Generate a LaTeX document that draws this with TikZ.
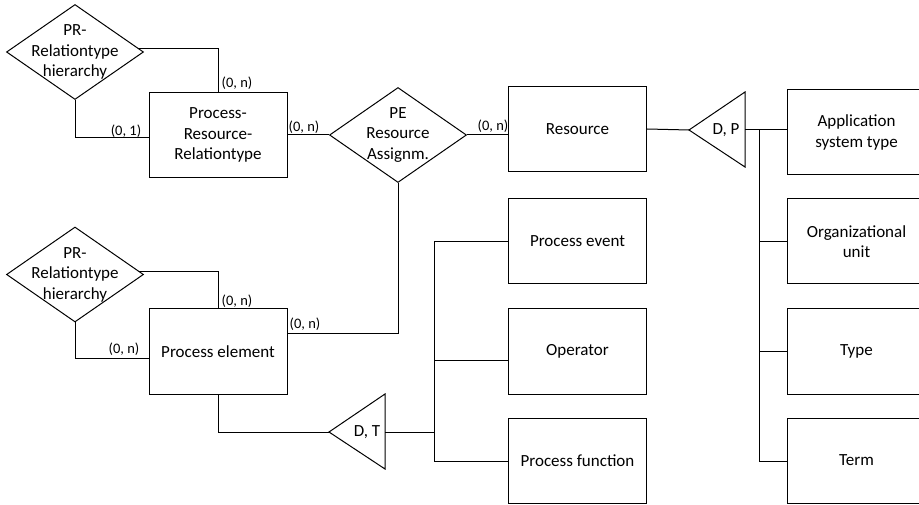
\documentclass[tikz,border=0pt]{standalone}
\usepackage{fontspec}
\setmainfont{Carlito}
\usetikzlibrary{shapes.geometric,calc}
\begin{document}
\begin{tikzpicture}[x=1pt,y=-1pt,
  ent/.style={draw,line width=1pt,rectangle,minimum width=138pt,minimum height=85pt,inner sep=0pt,align=center,font=\fontsize{17}{20.5}\selectfont},
  rel/.style={draw,line width=1pt,diamond,minimum width=137pt,minimum height=95pt,inner sep=0pt},
  rtxt/.style={align=center,font=\fontsize{17}{20.5}\selectfont,inner sep=0pt},
  card/.style={font=\fontsize{14.5}{16}\selectfont,inner sep=0pt},
  conn/.style={line width=1pt}]
\useasboundingbox (0,0) rectangle (919,505);

% relationships
\node[rel] (pr1) at (75,52) {};
\node[rtxt] (pr1t) at (pr1) {PR-\\Relationtype\\hierarchy};
\node[rel] (pera) at (398,135) {};
\node[rtxt] (perat) at (pera) {PE\\Resource\\Assignm.};
\node[rel] (pr2) at (75,274.5) {};
\node[rtxt] (pr2t) at (pr2) {PR-\\Relationtype\\hierarchy};

% entities
\node[ent] (prr) at (218,135) {Process-\\Resource-\\Relationtype};
\node[ent] (res) at (577.5,129.5) {Resource};
\node[ent] (pel) at (218,351.5) {Process element};
\node[ent] (pev) at (577.5,241.5) {Process event};
\node[ent] (op) at (577.5,351.5) {Operator};
\node[ent] (pf) at (577.5,460.5) {Process function};
\node[ent,minimum width=139pt] (app) at (856.5,132.5) {Application\\system type};
\node[ent,minimum width=139pt] (org) at (856.5,241.5) {Organizational\\unit};
\node[ent,minimum width=139pt] (typ) at (856.5,351.5) {Type};
\node[ent,minimum width=139pt] (term) at (856.5,460.5) {Term};

% generalisation triangles
\coordinate (dpA) at (689,130);
\coordinate (dpB) at (745,130);
\draw[conn] (dpA) -- (745,92) -- (745,167) -- cycle;
\node[rtxt] (dpt) at (726,130) {D, P};
\coordinate (dtA) at (329,432);
\coordinate (dtB) at (385,432);
\draw[conn] (dtA) -- (385,394) -- (385,469) -- cycle;
\node[rtxt] (dtt) at (367,432) {D, T};

% buses
\coordinate (busR) at (759,130);
\coordinate (busRb) at (759,461);
\coordinate (busL) at (434,242);
\coordinate (busLb) at (434,461);
\coordinate (busLo) at (434,360);

% connectors
\draw[conn] ($(pr1.east)!0.07!(pr1.north)$) -| (prr.north);
\draw[conn] (pr1.south) |- ([yshift=-3pt]prr.west);
\draw[conn] (prr.east) -- (pera.west);
\draw[conn] (pera.east) -- (pera.east -| res.west);
\draw[conn] ([yshift=0.5pt]res.east) -- (dpA);
\draw[conn] (dpB) -- (dpB -| app.west);
\draw[conn] (busR) -- (busRb);
\draw[conn] (busR |- org.west) -- (org.west);
\draw[conn] (busR |- typ.west) -- (typ.west);
\draw[conn] (busRb) -- (busRb -| term.west);

\draw[conn] ($(pr2.east)!0.07!(pr2.north)$) -| (pel.north);
\draw[conn] (pr2.south) |- ([yshift=-6.5pt]pel.west);
\draw[conn] ([yshift=18.5pt]pel.east) -| (pera.south);
\draw[conn] (pel.south) |- (dtA);
\draw[conn] (dtB) -- (dtB -| busL);
\draw[conn] (busL) -- (busLb);
\draw[conn] (busL) -- (busL -| pev.west);
\draw[conn] (busLo) -- (busLo -| op.west);
\draw[conn] (busLb) -- (busLb -| pf.west);

% cardinalities
\node[card] (c1) at (237,83) {(0, n)};
\node[card] (c2) at (126,131) {(0, 1)};
\node[card] (c3) at (304,127) {(0, n)};
\node[card] (c4) at (493,126) {(0, n)};
\node[card] (c5) at (237,301) {(0, n)};
\node[card] (c6) at (124,349) {(0, n)};
\node[card] (c7) at (305,324) {(0, n)};
\end{tikzpicture}
\end{document}
